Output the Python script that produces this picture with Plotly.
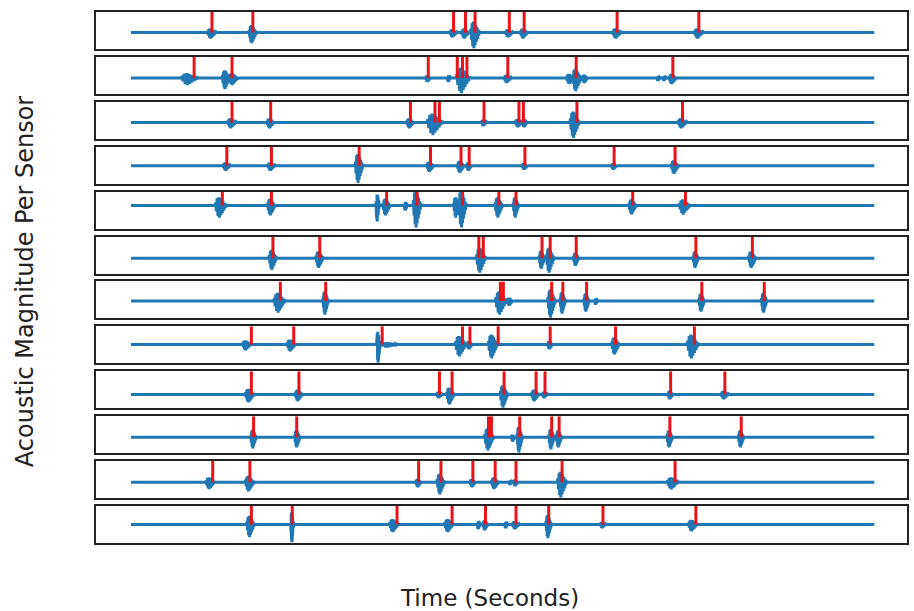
import plotly.graph_objects as go
from plotly.subplots import make_subplots

# ---------------- data (time in seconds, amplitude in sensor units) ----------------
T_END = 10.0

event_times = [
    [1.09, 1.64, 4.34, 4.50, 4.63, 5.09, 5.29, 6.54, 7.64],
    [0.85, 1.36, 4.00, 4.39, 4.46, 4.52, 5.07, 5.99, 7.29],
    [1.36, 1.88, 3.76, 4.09, 4.15, 4.75, 5.22, 5.28, 6.00, 7.42],
    [1.29, 1.89, 3.07, 4.03, 4.44, 4.55, 5.30, 6.50, 7.32],
    [1.23, 1.89, 3.44, 3.85, 4.46, 4.95, 5.18, 6.75, 7.46],
    [1.91, 2.54, 4.68, 4.74, 5.53, 5.64, 5.99, 7.60, 8.36],
    [2.01, 2.62, 4.97, 5.01, 5.66, 5.81, 6.13, 7.68, 8.52],
    [1.62, 2.19, 3.38, 4.46, 4.56, 4.94, 5.64, 6.52, 7.58],
    [1.62, 2.26, 4.15, 4.32, 5.02, 5.45, 5.57, 7.26, 7.99],
    [1.65, 2.23, 4.81, 4.85, 5.23, 5.66, 5.76, 7.25, 8.21],
    [1.10, 1.60, 3.87, 4.17, 4.60, 4.90, 5.18, 5.80, 7.32],
    [1.62, 2.17, 3.58, 4.32, 4.77, 5.18, 5.62, 6.35, 7.60],
]

burst_times = [
    [1.09, 1.64, 4.34, 4.50, 4.63, 5.09, 5.29, 6.54, 7.64],
    [0.79, 1.28, 1.38, 4.00, 4.28, 4.47, 5.07, 5.91, 6.00, 6.11, 7.10, 7.18, 7.29],
    [1.36, 1.88, 3.76, 4.09, 4.75, 5.22, 5.30, 5.97, 7.42],
    [1.29, 1.89, 3.07, 4.03, 4.44, 4.55, 5.30, 6.50, 7.32],
    [1.21, 1.89, 3.32, 3.44, 3.70, 3.85, 4.38, 4.46, 4.95, 5.18, 6.75, 7.45],
    [1.91, 2.54, 4.71, 5.53, 5.64, 5.99, 7.60, 8.36],
    [2.00, 2.62, 4.98, 5.10, 5.66, 5.81, 6.13, 6.26, 7.68, 8.52],
    [1.56, 2.16, 3.33, 3.48, 4.44, 4.56, 4.87, 5.64, 6.52, 7.56],
    [1.60, 2.26, 4.15, 4.30, 5.02, 5.44, 5.57, 7.26, 7.99],
    [1.65, 2.24, 4.82, 5.14, 5.23, 5.66, 5.76, 7.25, 8.21],
    [1.07, 1.60, 3.87, 4.17, 4.60, 4.90, 5.11, 5.18, 5.80, 7.29],
    [1.61, 2.17, 3.54, 4.28, 4.68, 4.77, 5.05, 5.18, 5.62, 6.35, 7.56],
]

burst_amps = [
    [0.29, 0.52, 0.24, 0.29, 0.76, 0.24, 0.29, 0.29, 0.29],
    [0.33, 0.52, 0.33, 0.19, 0.19, 0.71, 0.24, 0.29, 0.62, 0.24, 0.14, 0.14, 0.29],
    [0.29, 0.29, 0.29, 0.62, 0.19, 0.24, 0.24, 0.76, 0.29],
    [0.26, 0.26, 0.89, 0.32, 0.37, 0.26, 0.21, 0.21, 0.42],
    [0.86, 0.71, 1.14, 0.71, 0.36, 1.57, 0.86, 1.57, 0.86, 0.86, 0.64, 0.64],
    [0.55, 0.45, 0.68, 0.50, 0.68, 0.36, 0.45, 0.45],
    [0.60, 0.70, 0.70, 0.25, 0.85, 0.65, 0.55, 0.20, 0.55, 0.60],
    [0.33, 0.39, 1.00, 0.17, 0.67, 0.28, 0.78, 0.28, 0.56, 0.78],
    [0.35, 0.30, 0.17, 0.43, 0.57, 0.30, 0.17, 0.22, 0.22],
    [0.52, 0.48, 0.62, 0.19, 0.71, 0.57, 0.48, 0.48, 0.48],
    [0.33, 0.43, 0.24, 0.57, 0.24, 0.33, 0.14, 0.19, 0.71, 0.33],
    [0.68, 0.95, 0.42, 0.42, 0.26, 0.32, 0.21, 0.26, 0.74, 0.21, 0.37],
]

burst_widths = [
    [0.13, 0.11, 0.11, 0.11, 0.13, 0.11, 0.11, 0.13, 0.13],
    [0.24, 0.11, 0.13, 0.08, 0.05, 0.19, 0.11, 0.11, 0.13, 0.08, 0.05, 0.05, 0.11],
    [0.13, 0.11, 0.11, 0.22, 0.08, 0.11, 0.08, 0.13, 0.13],
    [0.11, 0.11, 0.11, 0.11, 0.11, 0.08, 0.08, 0.08, 0.11],
    [0.16, 0.11, 0.05, 0.11, 0.05, 0.11, 0.08, 0.11, 0.11, 0.08, 0.11, 0.16],
    [0.11, 0.11, 0.13, 0.08, 0.11, 0.08, 0.08, 0.11],
    [0.16, 0.08, 0.16, 0.08, 0.11, 0.08, 0.08, 0.05, 0.08, 0.08],
    [0.13, 0.13, 0.05, 0.24, 0.16, 0.08, 0.13, 0.08, 0.11, 0.16],
    [0.13, 0.11, 0.08, 0.11, 0.11, 0.11, 0.08, 0.08, 0.11],
    [0.08, 0.08, 0.13, 0.05, 0.08, 0.08, 0.08, 0.08, 0.08],
    [0.13, 0.13, 0.08, 0.11, 0.08, 0.11, 0.05, 0.08, 0.13, 0.16],
    [0.11, 0.04, 0.13, 0.13, 0.05, 0.08, 0.05, 0.11, 0.08, 0.08, 0.13],
]

# hand-read oscillation shape of one acoustic burst (normalised, min = -1)
burst_shape = [0.0, 0.25, -0.45, 0.6, -0.85, 0.7, -1.0, 0.65, -0.8, 0.5,
               -0.6, 0.35, -0.4, 0.2, -0.2, 0.1, 0.0]

x_label = "Time (Seconds)"
y_label = "Acoustic Magnitude Per Sensor"

# ---------------- figure ----------------
N = len(event_times)
W, H = 914, 611
ML, MR, MT, MB = 96, 5, 12, 68
plot_h = H - MT - MB
gap_px = 7.9
fig = make_subplots(rows=N, cols=1, shared_xaxes=False,
                    vertical_spacing=gap_px / plot_h)

BLUE = "#1f77b4"
RED = "#e8141a"


def build_signal(times, amps, widths):
    pts = [(0.0, 0.0), (T_END, 0.0)]
    n = len(burst_shape)
    for t, a, w in zip(times, amps, widths):
        for k, v in enumerate(burst_shape):
            pts.append((t + w * (k / (n - 1) - 0.5), a * v))
    pts.sort(key=lambda p: p[0])
    return [p[0] for p in pts], [p[1] for p in pts]


for i in range(N):
    xs, ys = build_signal(burst_times[i], burst_amps[i], burst_widths[i])
    fig.add_trace(go.Scatter(x=xs, y=ys, mode="lines",
                             line=dict(color=BLUE, width=3),
                             hoverinfo="skip"), row=i + 1, col=1)
    rx, ry = [], []
    for t in event_times[i]:
        rx += [t, t, None]
        ry += [0.0, 1.0, None]
    fig.add_trace(go.Scatter(x=rx, y=ry, mode="lines",
                             line=dict(color=RED, width=3),
                             hoverinfo="skip"), row=i + 1, col=1)
    ymin = -1.05 * max(burst_amps[i])
    axis_common = dict(showticklabels=False, ticks="", showgrid=False,
                       zeroline=False, showline=True, mirror=True,
                       linecolor="#222222", linewidth=2)
    fig.update_xaxes(range=[-0.47, T_END + 0.44], **axis_common,
                     row=i + 1, col=1)
    fig.update_yaxes(range=[ymin, 1.0], **axis_common, row=i + 1, col=1)

fig.add_annotation(text=x_label, xref="paper", yref="paper",
                   x=(490 - ML) / (W - ML - MR), y=(H - 598 - MB) / plot_h,
                   xanchor="center", yanchor="middle", showarrow=False,
                   font=dict(family="DejaVu Sans", size=23, color="#222222"))
fig.add_annotation(text=y_label, xref="paper", yref="paper",
                   x=(25 - ML) / (W - ML - MR), y=(H - 281 - MB) / plot_h,
                   xanchor="center", yanchor="middle", textangle=-90,
                   showarrow=False,
                   font=dict(family="DejaVu Sans", size=24, color="#222222"))

fig.update_layout(width=W, height=H, showlegend=False,
                  margin=dict(l=ML, r=MR, t=MT, b=MB),
                  plot_bgcolor="white", paper_bgcolor="white")

fig.write_html("out.html", config={"displayModeBar": False},
               post_script="document.body.style.margin='0';"
                           "document.body.style.overflow='hidden';")
